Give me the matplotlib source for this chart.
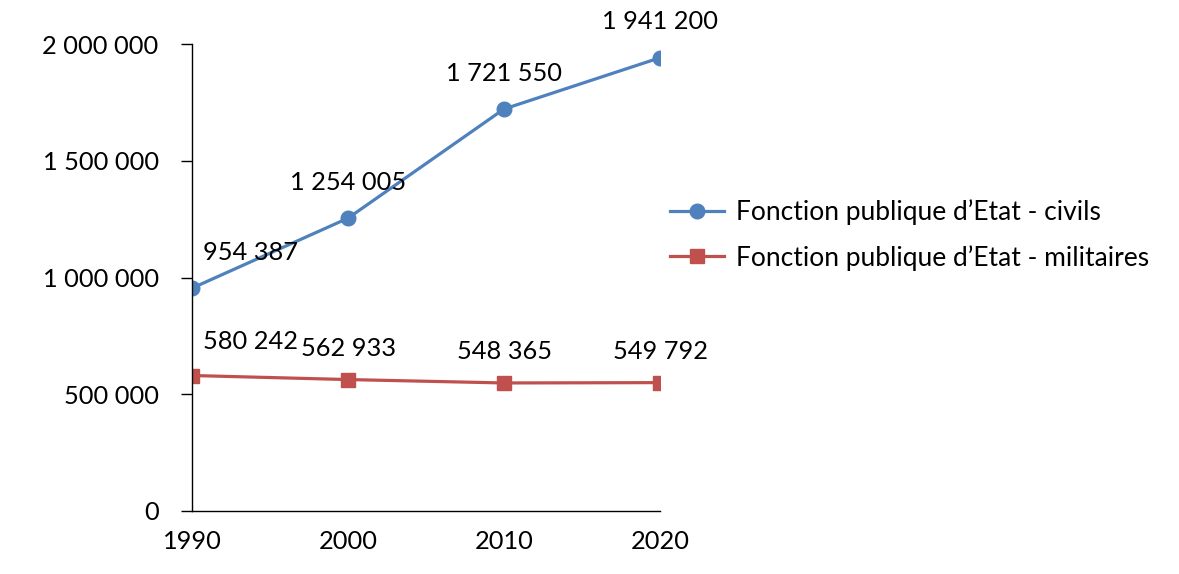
import matplotlib
matplotlib.use("Agg")
import matplotlib.pyplot as plt
from matplotlib.ticker import FuncFormatter

years = [1990, 2000, 2010, 2020]
civils = [954387, 1254005, 1721550, 1941200]
militaires = [580242, 562933, 548365, 549792]
label_civils = "Fonction publique d\u2019Etat - civils"
label_mil = "Fonction publique d\u2019Etat - militaires"
yticks = [0, 500000, 1000000, 1500000, 2000000]

plt.rcParams['font.family'] = ['Lato', 'DejaVu Sans']
FS = 18.3
LFS = 19.0

def fmt(v, pos=None):
    return f"{int(round(v)):,}".replace(",", " ")

fig = plt.figure(figsize=(11.79, 5.74), dpi=100)
ax = fig.add_axes([192/1179, 1-511/574, (660-192)/1179, (511-44)/574])

blue = "#4F81BD"
red = "#C0504D"
l1, = ax.plot(years, civils, color=blue, lw=2.3, marker='o', ms=10.5, label=label_civils)
l2, = ax.plot(years, militaires, color=red, lw=2.3, marker='s', ms=10.5, label=label_mil)

for i, (x, y) in enumerate(zip(years, civils)):
    dx = 58 if i == 0 else 0
    ax.annotate(fmt(y), (x, y), xytext=(dx, 36), textcoords='offset pixels',
                ha='center', va='center', fontsize=FS, annotation_clip=False)
for i, (x, y) in enumerate(zip(years, militaires)):
    dx = 58 if i == 0 else 0
    dy = 34 if i == 0 else 31
    ax.annotate(fmt(y), (x, y), xytext=(dx, dy), textcoords='offset pixels',
                ha='center', va='center', fontsize=FS, annotation_clip=False)

ax.set_xlim(1990, 2020)
ax.set_ylim(0, 2000000)
ax.set_xticks(years)
ax.set_yticks(yticks)
ax.yaxis.set_major_formatter(FuncFormatter(fmt))
ax.tick_params(axis='y', length=8, width=1, direction='out', labelsize=FS, pad=16)
ax.tick_params(axis='x', length=0, labelsize=FS, pad=14)
for s in ['top', 'right']:
    ax.spines[s].set_visible(False)
for s in ['left', 'bottom']:
    ax.spines[s].set_color('black')
    ax.spines[s].set_linewidth(1)

fig.legend(handles=[l1, l2], loc='center left', bbox_to_anchor=(646/1179, 1-235/574),
           frameon=False, fontsize=LFS, handlelength=2.05, labelspacing=0.75, handletextpad=0.45)

fig.savefig("out.png", dpi=100)
